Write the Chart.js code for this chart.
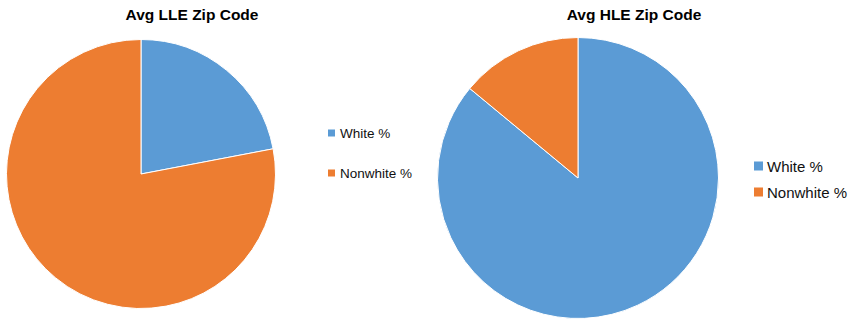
<!DOCTYPE html>
<html>
<head>
<meta charset="utf-8">
<script src="https://cdn.jsdelivr.net/npm/chart.js@4"></script>
<style>
  html, body { margin:0; padding:0; background:#fff; }
  body { width:858px; height:319px; position:relative; overflow:hidden; font-family:"Liberation Sans", Arial, sans-serif; }
  .title { position:absolute; font-weight:bold; font-size:15.5px; color:#000; white-space:nowrap; transform:translate(-50%,-50%); }
  .wrap { position:absolute; }
  .leg { position:absolute; color:#111; white-space:nowrap; }
  .leg .sw { display:inline-block; vertical-align:middle; }
  .leg .item { position:absolute; left:0; display:flex; align-items:center; transform:translateY(-50%); }
</style>
</head>
<body>
<div class="title" id="t1" style="left:192px; top:15px;"></div>
<div class="title" id="t2" style="left:634px; top:15px;"></div>
<div class="wrap" style="left:6px; top:39px; width:270px; height:270px;"><canvas id="c1"></canvas></div>
<div class="wrap" style="left:437px; top:37px; width:282px; height:282px;"><canvas id="c2"></canvas></div>
<div class="leg" id="l1" style="left:328px; top:0;"></div>
<div class="leg" id="l2" style="left:754px; top:0;"></div>
<script>
const categories = ["White %", "Nonwhite %"];
const lleValues = [22, 78];
const hleValues = [86, 14];
const titles = ["Avg LLE Zip Code", "Avg HLE Zip Code"];
const colors = ["#5B9BD5", "#ED7D31"];

document.getElementById('t1').textContent = titles[0];
document.getElementById('t2').textContent = titles[1];

function makePie(id, values) {
  new Chart(document.getElementById(id), {
    type: 'pie',
    data: { labels: categories, datasets: [{ data: values, backgroundColor: colors, borderColor: '#ffffff', borderWidth: 1 }] },
    options: {
      responsive: true, maintainAspectRatio: false, animation: false,
      layout: { padding: 0 },
      plugins: { legend: { display: false }, title: { display: false }, tooltip: { enabled: false } }
    }
  });
}
makePie('c1', lleValues);
makePie('c2', hleValues);

function makeLegend(id, ys, size, box) {
  const el = document.getElementById(id);
  categories.forEach((c, i) => {
    const it = document.createElement('div');
    it.className = 'item';
    it.style.top = ys[i] + 'px';
    it.style.fontSize = size + 'px';
    const sw = document.createElement('span');
    sw.className = 'sw';
    sw.style.width = box + 'px'; sw.style.height = box + 'px';
    sw.style.background = colors[i];
    sw.style.marginRight = (box === 7 ? 5 : 4) + 'px';
    const tx = document.createElement('span');
    tx.textContent = c;
    it.appendChild(sw); it.appendChild(tx);
    el.appendChild(it);
  });
}
makeLegend('l1', [133, 173], 13.5, 7);
makeLegend('l2', [166, 192], 15, 9);
</script>
</body>
</html>
